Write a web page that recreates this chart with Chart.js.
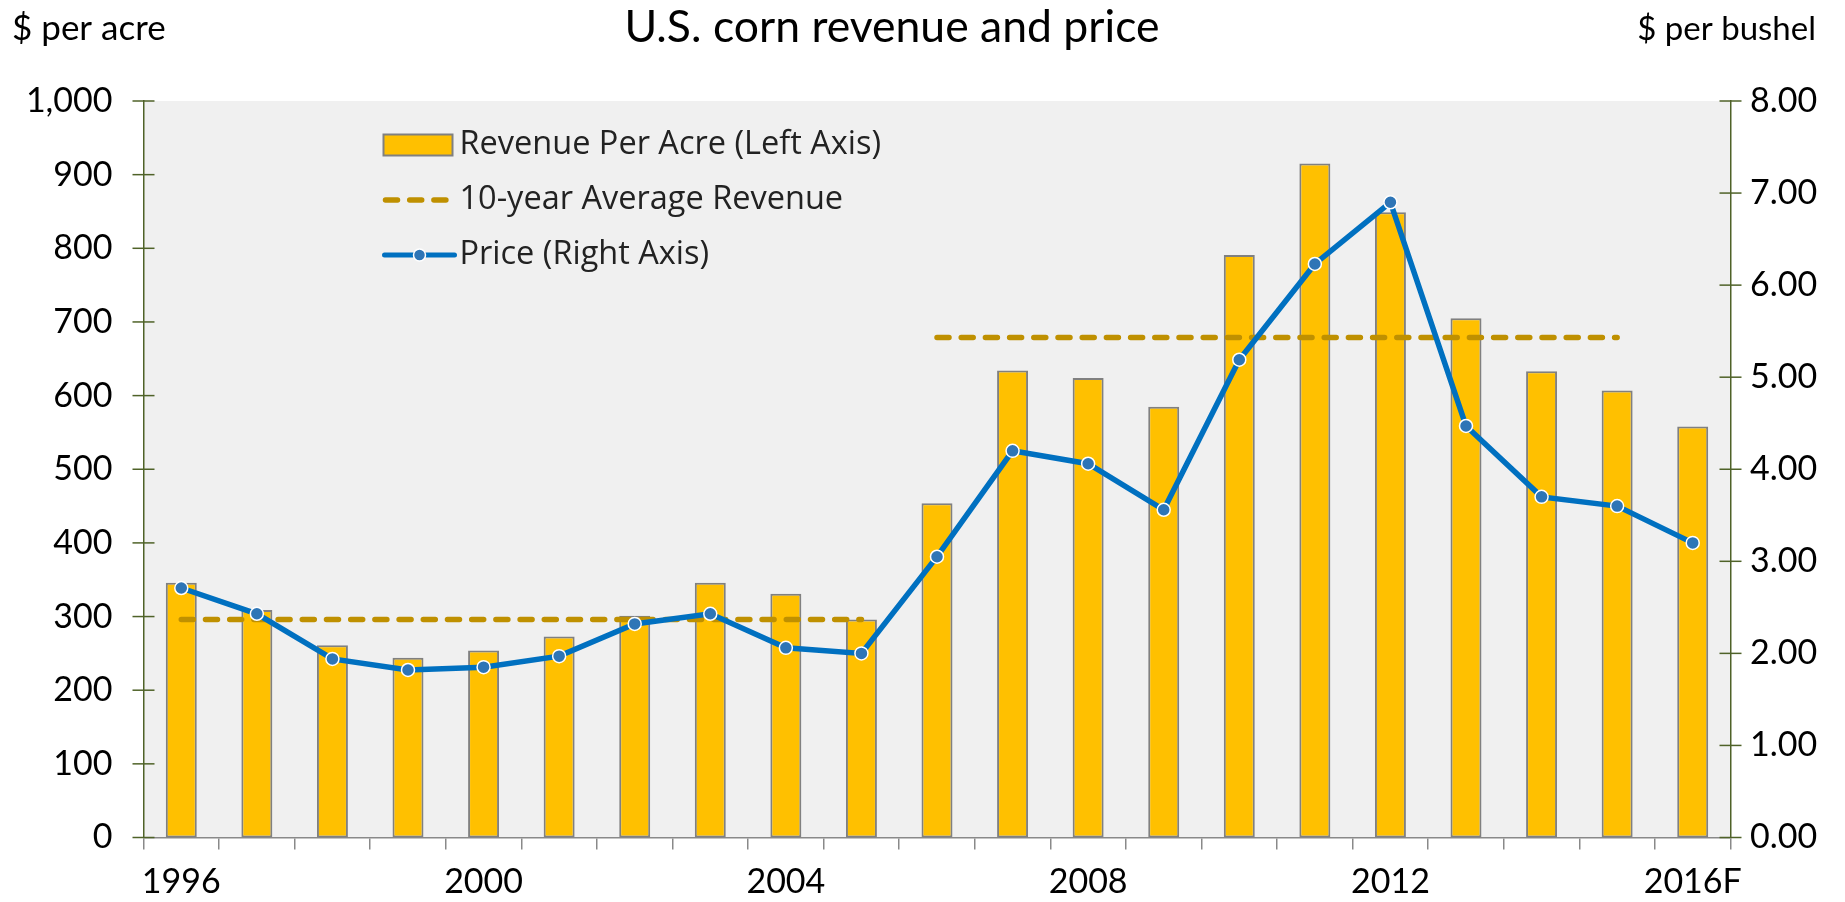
<!DOCTYPE html>
<html>
<head>
<meta charset="utf-8">
<title>U.S. corn revenue and price</title>
<script src="https://cdn.jsdelivr.net/npm/chart.js@4.4.1/dist/chart.umd.min.js"></script>
<style>
  body { margin: 0; background: #ffffff; }
  #chart-box { width: 1845px; height: 902px; }
</style>
</head>
<body>
<div id="chart-box"><canvas id="corn-chart" width="1845" height="902"></canvas></div>
<script>
const years = ["1996", "1997", "1998", "1999", "2000", "2001", "2002", "2003", "2004", "2005",
  "2006", "2007", "2008", "2009", "2010", "2011", "2012", "2013", "2014", "2015", "2016F"];
const shownYears = ["1996", "2000", "2004", "2008", "2012", "2016F"];

// $ per acre (left axis)
const revenuePerAcre = [346, 309, 261, 244, 254, 273, 301, 346, 331, 296,
  454, 634, 624, 585, 791, 915, 849, 705, 633, 607, 558];

// 10-year averages, 1996-2005 and 2006-2015
const avgEarly = [296, 296, 296, 296, 296, 296, 296, 296, 296, 296,
  null, null, null, null, null, null, null, null, null, null, null];
const avgLate = [null, null, null, null, null, null, null, null, null, null,
  679, 679, 679, 679, 679, 679, 679, 679, 679, 679, null];

// $ per bushel (right axis)
const price = [2.71, 2.43, 1.94, 1.82, 1.85, 1.97, 2.32, 2.43, 2.06, 2.00,
  3.05, 4.20, 4.06, 3.56, 5.19, 6.23, 6.90, 4.47, 3.70, 3.60, 3.20];

const leftTicks = { min: 0, max: 1000, step: 100 };
const rightTicks = { min: 0, max: 8, step: 1 };

const barColor = "#FFC000";
const barEdge = "#808080";
const avgColor = "#BF9000";
const priceColor = "#0070C0";
const pointColor = "#2E75B6";
const axisGreen = "#4F6228";
const axisGray = "#898989";
const tickFont = { family: "Lato", size: 34 };

// grey plot background
const plotBackground = {
  id: "plotBackground",
  beforeDraw(chart) {
    const { ctx, chartArea } = chart;
    ctx.save();
    ctx.fillStyle = "#ffffff";
    ctx.fillRect(0, 0, chart.width, chart.height);
    ctx.fillStyle = "#F0F0F0";
    ctx.fillRect(chartArea.left, chartArea.top, chartArea.right - chartArea.left, chartArea.bottom - chartArea.top);
    ctx.restore();
  },
};

// small tick marks that cross the two value axes
const crossTicks = {
  id: "crossTicks",
  afterDraw(chart) {
    const ctx = chart.ctx;
    ctx.save();
    ctx.strokeStyle = axisGreen;
    ctx.lineWidth = 1.5;
    ["y", "y1"].forEach((id) => {
      const scale = chart.scales[id];
      const x = id === "y" ? scale.right : scale.left;
      scale.ticks.forEach((t, i) => {
        const y = scale.getPixelForTick(i);
        ctx.beginPath();
        ctx.moveTo(x - 11, y);
        ctx.lineTo(x + 11, y);
        ctx.stroke();
      });
    });
    ctx.restore();
  },
};

// title and unit labels above the plot
const headerText = {
  id: "headerText",
  afterDraw(chart) {
    const ctx = chart.ctx;
    ctx.save();
    ctx.fillStyle = "#000000";
    ctx.textBaseline = "middle";
    ctx.font = "44.5px Lato";
    ctx.textAlign = "center";
    ctx.fillText("U.S. corn revenue and price", 892, 28);
    ctx.font = "35px Lato";
    ctx.textAlign = "left";
    ctx.fillText("$ per acre", 12, 29);
    ctx.font = "33px Lato";
    ctx.textAlign = "right";
    ctx.fillText("$ per bushel", chart.width - 29, 29);
    ctx.restore();
  },
};

// legend drawn inside the plot, top left
const insideLegend = {
  id: "insideLegend",
  afterDraw(chart) {
    const { ctx, chartArea } = chart;
    const x0 = chartArea.left + 239;
    const textX = chartArea.left + 316;
    const rows = [chartArea.top + 44, chartArea.top + 99, chartArea.top + 154];
    const labels = ["Revenue Per Acre (Left Axis)", "10-year Average Revenue", "Price (Right Axis)"];
    ctx.save();

    ctx.fillStyle = barColor;
    ctx.strokeStyle = barEdge;
    ctx.lineWidth = 2;
    ctx.fillRect(x0 + 1, rows[0] - 10.5, 69, 21);
    ctx.strokeRect(x0 + 1, rows[0] - 10.5, 69, 21);

    ctx.strokeStyle = avgColor;
    ctx.lineWidth = 5.5;
    ctx.lineCap = "round";
    ctx.setLineDash([12, 12.2]);
    ctx.beginPath();
    ctx.moveTo(x0 + 3, rows[1]);
    ctx.lineTo(x0 + 64, rows[1]);
    ctx.stroke();
    ctx.setLineDash([]);

    ctx.strokeStyle = priceColor;
    ctx.lineWidth = 5;
    ctx.beginPath();
    ctx.moveTo(x0 + 2, rows[2]);
    ctx.lineTo(x0 + 72, rows[2]);
    ctx.stroke();
    ctx.beginPath();
    ctx.arc(x0 + 37, rows[2], 6, 0, Math.PI * 2);
    ctx.fillStyle = pointColor;
    ctx.fill();
    ctx.lineWidth = 1.5;
    ctx.strokeStyle = "#ffffff";
    ctx.stroke();

    ctx.font = "32.5px 'Open Sans'";
    ctx.fillStyle = "#222222";
    ctx.textAlign = "left";
    ctx.textBaseline = "middle";
    labels.forEach((text, i) => ctx.fillText(text, textX, rows[i]));
    ctx.restore();
  },
};

const ctx = document.getElementById("corn-chart");

const cornChart = new Chart(ctx, {
  data: {
    labels: years,
    datasets: [
      {
        type: "line",
        label: "Price (Right Axis)",
        data: price,
        yAxisID: "y1",
        borderColor: priceColor,
        borderWidth: 5.5,
        tension: 0,
        pointRadius: 6.5,
        pointBackgroundColor: pointColor,
        pointBorderColor: "#ffffff",
        pointBorderWidth: 1.5,
        order: 1,
      },
      {
        type: "line",
        label: "10-year Average Revenue",
        data: avgEarly,
        yAxisID: "y",
        borderColor: avgColor,
        borderWidth: 5.5,
        borderDash: [12, 12.2],
        borderCapStyle: "round",
        pointRadius: 0,
        spanGaps: false,
        order: 2,
      },
      {
        type: "line",
        label: "10-year Average Revenue",
        data: avgLate,
        yAxisID: "y",
        borderColor: avgColor,
        borderWidth: 5.5,
        borderDash: [12, 12.2],
        borderCapStyle: "round",
        pointRadius: 0,
        spanGaps: false,
        order: 2,
      },
      {
        type: "bar",
        label: "Revenue Per Acre (Left Axis)",
        data: revenuePerAcre,
        yAxisID: "y",
        backgroundColor: barColor,
        borderColor: barEdge,
        borderWidth: 2,
        borderSkipped: false,
        categoryPercentage: 1,
        barPercentage: 0.41,
        order: 3,
      },
    ],
  },
  options: {
    responsive: false,
    animation: false,
    devicePixelRatio: 1,
    layout: { padding: { top: 101, left: 0, right: 0, bottom: 0 } },
    plugins: {
      legend: { display: false },
      tooltip: { enabled: false },
      title: { display: false },
    },
    scales: {
      x: {
        offset: true,
        grid: {
          offset: true,
          drawOnChartArea: false,
          drawTicks: true,
          tickLength: 12,
          color: axisGray,
          lineWidth: 1.5,
        },
        border: { color: axisGray, width: 1.5 },
        ticks: {
          autoSkip: false,
          maxRotation: 0,
          padding: 12,
          color: "#000000",
          font: tickFont,
          callback: function (value, index) {
            const label = years[index];
            return shownYears.includes(label) ? label : "";
          },
        },
        afterFit: (scale) => { scale.height = 64.5; },
      },
      y: {
        position: "left",
        min: leftTicks.min,
        max: leftTicks.max,
        grid: { display: false, drawTicks: false },
        border: { color: axisGreen, width: 1.5 },
        ticks: {
          stepSize: leftTicks.step,
          padding: 31,
          color: "#000000",
          font: tickFont,
          callback: (v) => v.toLocaleString("en-US"),
        },
        afterFit: (scale) => { scale.width = 143.5; },
      },
      y1: {
        position: "right",
        min: rightTicks.min,
        max: rightTicks.max,
        grid: { display: false, drawTicks: false },
        border: { color: axisGreen, width: 1.5 },
        ticks: {
          stepSize: rightTicks.step,
          padding: 19.5,
          color: "#000000",
          font: tickFont,
          callback: (v) => v.toFixed(2),
        },
        afterFit: (scale) => { scale.width = 114.5; },
      },
    },
  },
  plugins: [plotBackground, crossTicks, headerText, insideLegend],
});
</script>
</body>
</html>
